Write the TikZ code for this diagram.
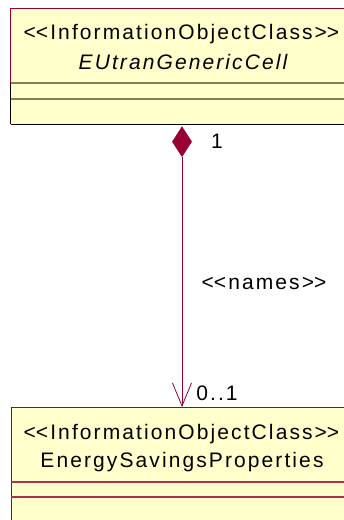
\documentclass[tikz,border=0pt]{standalone}
\usepackage{fontspec}
\setmainfont{Liberation Sans}[LetterSpace=10]
\usetikzlibrary{shapes.geometric,arrows.meta}
\definecolor{umlfill}{HTML}{FFFFCC}
\definecolor{umlred}{HTML}{990033}
\definecolor{umlolive}{HTML}{7F7F60}
\definecolor{umlpink}{HTML}{B03050}
\newcommand{\dlt}{<\kern0pt<}
\newcommand{\dgt}{>\kern0pt>}
\begin{document}
\begin{tikzpicture}[x=1pt,y=-1pt,
  txt/.style={inner sep=0pt, anchor=base, font=\fontsize{21}{25}\selectfont},
  boxfill/.style={fill=umlfill, inner sep=0pt, minimum width=342.5pt, anchor=north west},
  divolive/.style={draw=umlolive, line width=1.5pt},
  divpink/.style={draw=umlpink, line width=1.5pt},
  assoc/.style={draw=umlred, line width=0.8pt}]
\useasboundingbox (0,0) rectangle (344,520);
\clip (0,0) rectangle (344,520);
% upper class box
\node[boxfill, minimum height=116pt] (cell) at (10.5,8) {};
\draw[umlred, line width=1pt] (10.5,83) -- (cell.north west) -- (cell.north east);
\draw[black, line width=1pt] (10.5,83) -- (cell.south west);
\draw[divolive] (10.5,83) -- (353,83);
\draw[divolive] (10.5,99) -- (353,99);
\draw[black, line width=1.8pt] (cell.south west) -- (cell.south east);
\node[txt] (cellst) at (181.5,39.5) {\dlt InformationObjectClass\dgt};
\node[txt] (cellname) at (183,69.5) {\itshape EUtranGenericCell};
% lower class box
\node[boxfill, draw=umlred, line width=1pt, minimum height=125pt] (esp) at (10.5,407) {};
\draw[divpink] (10.5,482) -- (353,482);
\draw[divpink] (10.5,497) -- (353,497);
\node[txt] (espst) at (181.5,439.5) {\dlt InformationObjectClass\dgt};
\node[txt] (espname) at (182,467) {EnergySavingsProperties};
% composition
\node[diamond, fill=umlred, inner sep=0pt, minimum width=20pt, minimum height=31pt, anchor=north] (dia) at (182,126) {};
\draw[assoc, -{Straight Barb[length=23pt,width=19pt]}] (dia.south) -- (dia.south |- esp.north);
\node[txt] (m1) at (217,148) {1};
\node[txt] (m2) at (217,400) {0..1};
\node[txt] (lbl) at (264,289) {\dlt names\dgt};
\end{tikzpicture}
\end{document}
